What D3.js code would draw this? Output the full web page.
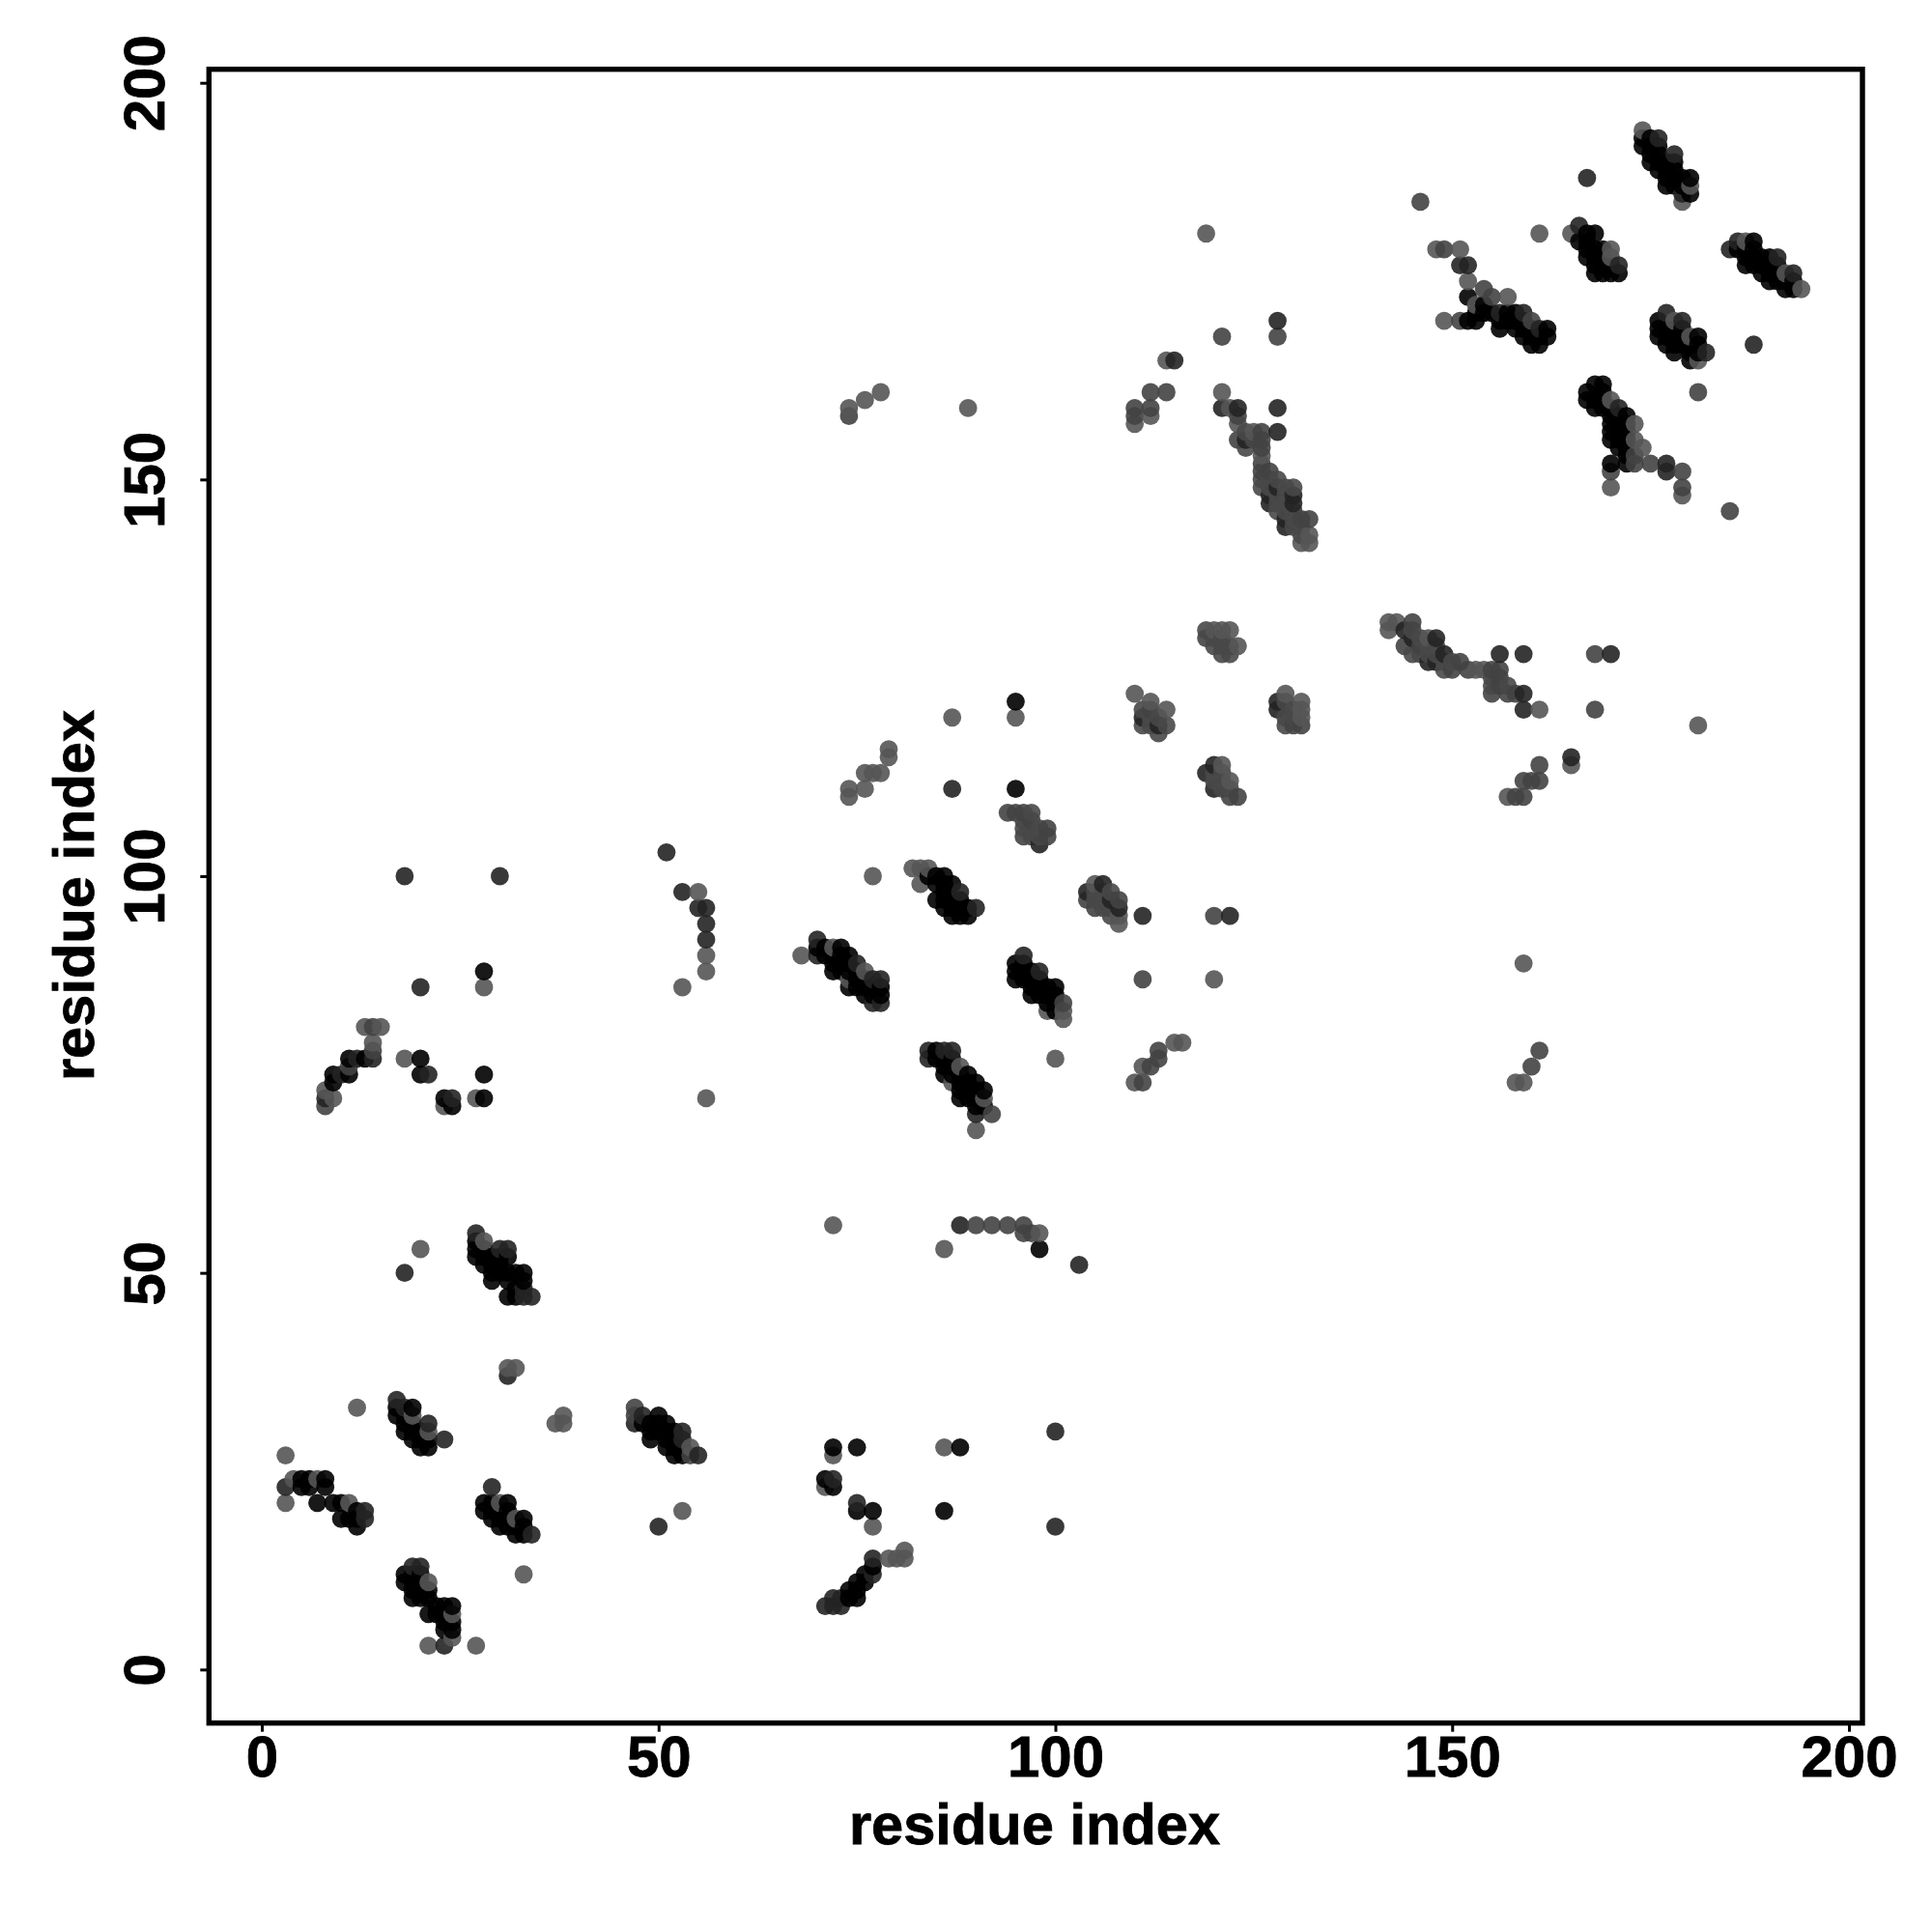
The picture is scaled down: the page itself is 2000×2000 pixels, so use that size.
<!DOCTYPE html>
<html>
<head>
<meta charset="utf-8">
<script src="https://cdn.jsdelivr.net/npm/d3@7/dist/d3.min.js"></script>
<style>
html,body{margin:0;padding:0;background:#fff}
svg{display:block}
text{font-family:"Liberation Sans",Arial,sans-serif;font-weight:bold;fill:#000}
</style>
</head>
<body>
<svg id="chart" width="2000" height="2000"></svg>
<script>
const tickValues = [0, 50, 100, 150, 200];
const axisLabel = "residue index";

// Contacts [residue i, residue j], grouped by how dark the mark is.
const coreBlackContacts = [
[18,32],[18,31],[19,31],[20,30],[21,29],[19,29],[29,20],[30,19],[31,20],[32,18],[33,18],[29,21],[31,19],[19,12],[20,12],[20,9],[19,9],[22,8],[23,7],[22,7],
[48,31],[49,30],[51,29],[52,29],[53,28],[51,31],[28,53],[28,52],[29,51],[29,50],[30,51],[30,52],[31,52],[32,48],[33,49],
[72,90],[72,89],[74,89],[75,88],[75,87],[76,87],[77,86],[73,88],[74,86],[86,77],[87,77],[87,76],[88,75],[88,73],[89,74],[90,74],[91,71],
[85,99],[86,99],[87,99],[88,97],[86,97],[86,96],[87,96],[96,89],[97,88],[97,86],[98,87],[98,85],[99,86],[100,83],[96,88],
[175,192],[175,191],[176,191],[177,189],[178,189],[179,188],[179,187],[176,189],[178,187],[176,192],
[167,180],[167,179],[168,178],[169,177],[170,177],[168,176],[169,179],[171,176],
[186,179],[187,179],[187,178],[188,177],[189,176],[190,176],[190,177],[191,176],[191,177],[192,175],[193,175],[189,178],
[177,168],[177,167],[178,169],[179,169],[179,168],[180,167],[180,165],[181,167],[176,168],[178,166],
[167,160],[168,160],[169,161],[170,159],[170,157],[171,157],[172,158],[172,157],[171,155],[172,155],[170,155],[171,154],
[153,171],[154,172],[155,171],[156,169],[157,170],[158,170],[159,170],[160,169],[159,169],[161,168],[160,167],[152,173],[153,170]
];
const coreDarkContacts = [
[119,131],[120,129],[121,128],[122,128],[121,129],[122,129],[120,130],[121,130],[111,121],[112,120],[112,119],[113,120],[113,118],[114,119],[111,119],
[120,113],[120,112],[121,113],[121,112],[121,111],[122,111],[129,120],[129,119],[130,120],[130,121],[129,122],
[105,98],[106,98],[106,97],[107,96],[106,96],[107,95],[105,97],[107,98],[96,107],[97,106],[97,105],[98,106],[98,105],[96,106],[97,108],
[124,156],[125,155],[126,150],[127,150],[127,149],[128,148],[128,147],[129,148],[129,147],[129,146],[130,146],[130,145],[130,144],[131,144],[131,143],[128,150],[129,149],[130,149],[128,146],[124,154],[126,149],
[145,131],[146,130],[146,128],[147,129],[148,129],[149,127],[150,127],[149,126],[145,128],[147,128],[148,128],[155,124],[155,125],[157,124]
];
const lightContacts = [
[3,27],[3,21],[4,24],[7,24],[11,21],[21,11],[24,7],[24,4],[21,3],[27,3],[33,12],[31,38],[32,38],[37,31],[38,32],[38,31],
[12,33],[19,32],[21,30],[28,54],[30,21],[32,19],[54,28],[53,20],[72,27],[71,23],[77,18],[79,14],[80,14],[81,15],[81,14],
[28,86],[13,81],[15,81],[14,79],[18,77],[8,73],[9,72],[23,71],[27,72],[20,53],[72,56],[55,98],[53,86],[56,72],[56,88],[56,90],
[77,100],[82,101],[83,101],[84,101],[83,99],[68,90],[72,91],[76,88],[74,87],[88,76],[87,74],[91,72],[90,68],[99,83],[101,83],[101,82],
[100,77],[105,99],[108,95],[108,94],[74,110],[76,111],[74,111],[77,113],[78,113],[79,115],[79,116],[76,113],[87,120],[95,120],[86,53],[98,55],[86,28],
[110,123],[112,122],[114,121],[129,123],[131,122],[131,121],[131,120],[122,112],[121,114],[120,87],[116,79],[115,79],[110,74],[111,76],
[142,132],[143,132],[142,131],[147,130],[153,126],[154,126],[161,121],[157,110],[165,114],[181,119],[159,89],[158,74],[159,74],
[174,194],[180,187],[179,185],[165,181],[170,179],[170,178],[161,181],[187,180],[192,176],[194,174],[178,170],[180,168],[181,165],
[170,160],[173,155],[174,154],[170,149],[179,148],[148,179],[151,179],[152,175],[149,170],[153,172],[157,173],
[119,181],[114,165],[110,157],[121,161],[122,159],[123,157],[125,156],[126,153],[131,142],[132,143],[132,142],[74,159],[76,160],[78,161],[89,159],[112,158],[173,157],
[120,131],[121,131],[122,131],[123,129]
];
const midContacts = [
[47,33],[47,32],[54,27],[14,81],[14,78],[8,71],[11,76],[92,70],[101,84],
[104,97],[105,96],[111,87],[96,105],[99,105],[94,108],[95,108],[96,108],[97,107],[99,106],
[113,78],[113,77],[112,76],[111,74],[145,132],[146,129],[144,129],[151,127],[150,126],[152,126],[155,126],[156,126],[156,125],[156,124],[155,123],[157,123],[158,123],
[168,128],[168,121],[161,114],[159,112],[160,112],[161,112],[159,110],[158,110],[161,78],[160,76],
[173,152],[175,152],[179,151],[179,149],[170,151],[181,161],[185,146],[146,185],[149,179],[151,170],[154,174],[155,173],[160,170],[173,153],
[121,168],[128,168],[112,161],[114,161],[112,159],[110,159],[110,158],[74,158],[123,158],[123,155],[126,156],[126,155],[126,154],[126,152],[126,151],[127,151],[132,145],[131,145],
[97,55],[96,56],[94,56],[92,56],[90,56],[120,95],[122,110],[123,110],[108,97],[112,121],[130,119],[131,119],[96,55],[119,130]
];
const darkContacts = [
[3,23],[17,34],[18,33],[23,29],[21,31],[29,23],[34,17],[19,13],[20,13],[23,3],[13,20],[13,19],[31,37],[47,31],[48,32],[53,30],[53,29],[55,27],
[50,18],[72,24],[75,21],[77,14],[77,12],[72,9],[71,8],[72,8],[73,9],[73,8],[20,86],[14,77],[12,77],[10,75],[21,75],[24,72],[8,72],
[18,50],[27,55],[30,53],[31,53],[33,48],[34,47],[33,47],[53,98],[55,96],[56,96],[56,94],[56,92],[51,103],[18,100],[30,100],
[88,98],[90,96],[70,92],[70,90],[75,89],[77,87],[78,87],[78,84],[77,84],[84,78],[84,77],[86,78],[87,78],[90,70],[96,90],[98,88],
[104,98],[106,99],[107,97],[108,96],[111,95],[87,111],[98,104],[103,51],[88,56],[100,30],[100,18],[111,120],[113,119],[119,113],[120,114],[120,111],[122,95],[128,122],[128,121],
[144,131],[145,130],[148,130],[147,127],[148,127],[149,128],[156,128],[159,128],[159,123],[159,121],[170,128],[165,115],
[176,193],[178,191],[179,186],[166,182],[171,159],[167,188],[185,179],[186,180],[191,178],[193,176],[177,171],[179,170],[182,166],[188,167],[171,177],
[177,152],[177,151],[156,171],[151,177],[152,177],[159,171],[161,169],[115,165],[128,170],[121,159],[123,159],[128,159],[128,156],[124,155],[128,149],[130,148],[130,147],[127,148],[127,147],[129,144],[129,145]
];
const blackContacts = [
[5,24],[6,24],[8,24],[8,23],[5,23],[6,23],[7,21],[9,21],[10,21],[10,19],[12,20],[12,18],[11,19],[12,19],
[17,33],[17,32],[19,33],[18,30],[20,28],[21,28],[19,30],[20,29],[28,21],[28,20],[31,21],[30,18],[33,19],[33,17],[32,17],[31,18],[30,20],[29,19],
[18,12],[19,10],[20,10],[21,9],[21,7],[23,8],[24,8],[23,6],[24,6],[23,5],[24,5],[18,11],[19,11],[20,11],[21,10],
[50,32],[50,31],[49,31],[49,29],[51,30],[52,30],[52,27],[53,27],[51,28],[52,28],[50,30],
[72,28],[75,28],[71,24],[72,23],[75,20],[77,20],[75,11],[75,10],[75,9],[74,9],[74,10],[76,11],[76,12],[77,13],
[28,88],[11,77],[13,77],[9,75],[11,75],[9,74],[20,77],[20,75],[23,72],[24,71],[28,72],[28,75],
[27,54],[27,53],[27,52],[29,52],[30,50],[32,50],[33,50],[29,49],[31,49],[31,47],[32,47],[31,50],[28,51],
[85,100],[86,100],[85,97],[87,95],[88,95],[89,95],[86,98],[87,97],[88,96],[89,96],[84,100],
[70,91],[71,90],[71,91],[73,91],[73,90],[73,89],[72,88],[75,86],[78,85],[78,86],[76,85],[76,86],[77,85],[74,88],[74,90],
[85,78],[86,75],[86,76],[85,77],[89,75],[88,72],[91,73],[90,73],[89,72],[90,71],[89,73],[90,72],[87,75],[88,74],
[95,89],[95,88],[95,87],[100,86],[97,85],[100,84],[96,87],[97,87],[98,86],[99,85],[99,84],[100,85],
[95,122],[95,111],[98,53],[88,28],[86,20],
[174,193],[174,192],[175,193],[175,190],[176,190],[177,190],[178,190],[177,188],[177,187],[178,188],[180,188],[180,186],[179,187],
[166,180],[167,181],[168,181],[167,178],[169,176],[170,176],[169,178],[168,179],[168,177],
[188,180],[187,177],[188,179],[188,178],[190,175],[190,178],[192,174],[193,174],[191,175],[189,177],
[176,170],[176,169],[178,167],[181,168],[180,166],[177,169],[178,168],[179,167],[181,166],
[167,161],[168,162],[169,162],[168,159],[170,156],[172,154],[172,153],[172,152],[170,152],[169,159],[171,156],[170,158],[171,158],[172,156],[169,160],
[152,170],[154,171],[156,170],[158,171],[159,168],[161,167],[162,169],[162,168],[157,171],[158,169],[160,168]
];

const shades = [
  {points: coreBlackContacts, grey: "rgb(0,0,0)"},
  {points: coreDarkContacts,  grey: "rgb(72,72,72)"},
  {points: lightContacts, grey: "rgb(85,85,85)"},
  {points: midContacts,   grey: "rgb(66,66,66)"},
  {points: darkContacts,  grey: "rgb(36,36,36)"},
  {points: blackContacts, grey: "rgb(0,0,0)"}
];

const svg = d3.select("#chart");
const x = d3.scaleLinear().domain([0, 200]).range([271, 1914]);
const y = d3.scaleLinear().domain([0, 200]).range([1728.3, 85.7]);

const byPair = new Map();
shades.forEach(s => s.points.forEach(p => byPair.set(p[0] + "," + p[1], {i: p[0], j: p[1], grey: s.grey})));
const contacts = Array.from(byPair.values());
contacts.sort((a, b) => d3.ascending(a.i, b.i) || d3.ascending(a.j, b.j));

svg.append("g").selectAll("circle").data(contacts).join("circle")
  .attr("cx", d => x(d.i)).attr("cy", d => y(d.j)).attr("r", 9.4)
  .attr("fill", d => d.grey).attr("fill-opacity", 0.9);

// frame
svg.append("rect").attr("x", 216.3).attr("y", 71.7).attr("width", 1711.7).attr("height", 1712)
  .attr("fill", "none").attr("stroke", "#000").attr("stroke-width", 5.4);

// x axis
const gx = svg.append("g").attr("transform", "translate(0,1783.7)")
  .call(d3.axisBottom(x).tickValues(tickValues).tickSize(9).tickPadding(12));
gx.select(".domain").remove();
gx.selectAll("line").attr("stroke", "#000").attr("stroke-width", 3);
gx.selectAll("text").attr("font-size", 60).attr("dy", null).attr("y", 55.5).attr("fill", "#000")
  .attr("stroke", "#000").attr("stroke-width", 0.8);

// y axis
const gy = svg.append("g").attr("transform", "translate(216.3,0)")
  .call(d3.axisLeft(y).tickValues(tickValues).tickSize(9));
gy.select(".domain").remove();
gy.selectAll("line").attr("stroke", "#000").attr("stroke-width", 3);
gy.selectAll("text").attr("font-size", 60).attr("dy", null).attr("x", null).attr("text-anchor", "middle")
  .attr("fill", "#000").attr("stroke", "#000").attr("stroke-width", 0.8)
  .attr("transform", "translate(-46,0) rotate(-90)");

// axis titles
svg.append("text").attr("x", 1071).attr("y", 1909).attr("text-anchor", "middle")
  .attr("font-size", 59.6).attr("stroke", "#000").attr("stroke-width", 0.8).text(axisLabel);
svg.append("text").attr("transform", "translate(97,927) rotate(-90)").attr("text-anchor", "middle")
  .attr("font-size", 59.6).attr("stroke", "#000").attr("stroke-width", 0.8).text(axisLabel);
</script>
</body>
</html>
